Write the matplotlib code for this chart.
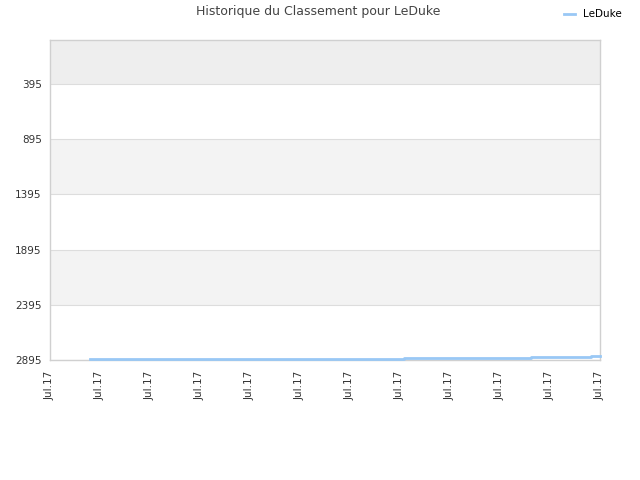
import matplotlib
matplotlib.use("Agg")
import matplotlib.pyplot as plt

# data (x in tick units, rank values)
x_vals = [0.8, 7.08, 9.62, 10.82, 11.0]
ranks = [2887, 2879, 2869, 2858, 2858]
tick_labels = ["Jul.17"] * 12
y_ticks = [395, 895, 1395, 1895, 2395, 2895]
series_name = "LeDuke"
title = "Historique du Classement pour LeDuke"

fig = plt.figure(figsize=(6.4, 4.8), dpi=100)
ax = fig.add_axes([50/640, 1-360/480, 550/640, 320/480])

y_top = -5
y_bot = 2895
ax.set_xlim(0, 11)
ax.set_ylim(y_bot, y_top)

# alternating bands
ax.axhspan(y_top, 395, color="#eeeeee", zorder=0, lw=0)
for i in range(len(y_ticks) - 1):
    lo, hi = y_ticks[i], y_ticks[i+1]
    col = "#f3f3f3" if i % 2 == 1 else "#ffffff"
    ax.axhspan(lo, hi, color=col, zorder=0, lw=0)
for yv in y_ticks:
    ax.axhline(yv, color="#dddddd", lw=0.8, zorder=1)

ax.step(x_vals, ranks, where="post", color="#99c8f5", lw=2, zorder=3,
        label=series_name, clip_on=False)

ax.set_yticks(y_ticks)
ax.set_yticklabels([str(v) for v in y_ticks], fontsize=7.5, color="#333333")
ax.set_xticks(range(12))
ax.set_xticklabels(tick_labels, rotation=90, fontsize=7.5, color="#333333")
ax.tick_params(axis="both", length=0, pad=6)
ax.tick_params(axis="x", pad=8)
for s in ax.spines.values():
    s.set_color("#d0d0d0")
    s.set_linewidth(1)
    s.set_zorder(2)

fig.text(318/640, 1-12/480, title, ha="center", va="center", fontsize=9, color="#444444")
leg = fig.legend(loc="upper right", bbox_to_anchor=(1.0 - 9/640, 1.0), frameon=False,
                 fontsize=7.5, handlelength=1.0, handletextpad=0.8)
fig.savefig("out.png", dpi=100)
